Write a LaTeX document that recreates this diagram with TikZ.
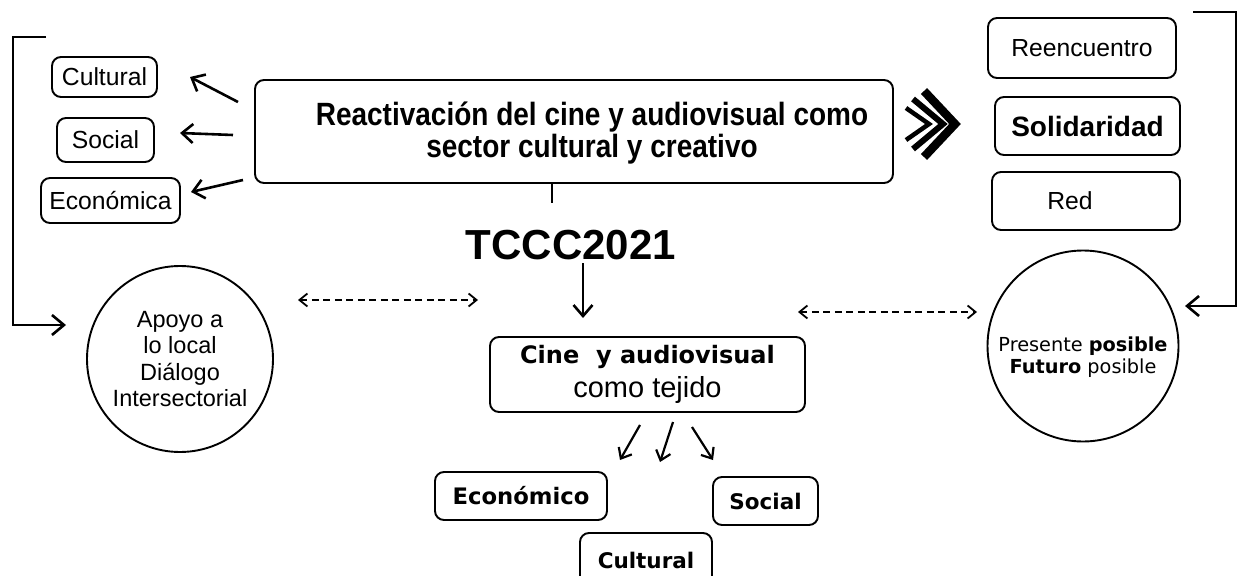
\documentclass[tikz,border=0pt]{standalone}
\usepackage{fontspec}
\setmainfont{Liberation Sans}
\newfontfamily\dejavu{DejaVu Sans}
\usetikzlibrary{arrows.meta}
\newcommand\vstr[2]{\scalebox{1}[#1]{#2}}
\begin{document}
\begin{tikzpicture}[x=1pt,y=-1pt,
  box/.style={draw, line width=1.9pt, rounded corners=9pt, inner sep=0pt},
  circ/.style={draw, circle, line width=1.9pt, inner sep=0pt},
  arr/.style={line width=2.6pt, -{Straight Barb[length=11pt,width=19pt]}},
  smallarr/.style={line width=2.2pt, -{Straight Barb[length=9pt,width=15pt]}},
  dasharr/.style={line width=1.8pt, dash pattern=on 7pt off 4.5pt,
     {Straight Barb[length=8pt,width=13pt]}-{Straight Barb[length=8pt,width=13pt]}},
  brk/.style={line width=2.6pt, -{Straight Barb[length=12pt,width=20pt]}},
  chev/.style={line cap=butt, line join=miter},
  regf/.style={font=\fontsize{24.7}{27}\selectfont},
  boldb/.style={font=\dejavu\bfseries\fontsize{21.5}{24}\selectfont},
]
\useasboundingbox[fill=white] (0,0) rectangle (1246,575);

% left boxes
\node[box, regf, minimum width=105pt, minimum height=40pt] (cultL) at (104.5,77) {Cultural};
\node[box, regf, minimum width=97pt, minimum height=44pt] (socL) at (105.5,140) {Social};
\node[box, regf, minimum width=139pt, minimum height=45pt] (ecoL) at (110.5,200.5) {Económica};

% main box
\node[box, minimum width=638pt, minimum height=103pt] (main) at (574,131.5) {};
\node[font=\bfseries\fontsize{28}{32}\selectfont, align=center] (mainT) at (592,133)
  {\vstr{1.15}{Reactivación del cine y audiovisual como}\\\vstr{1.15}{sector cultural y creativo}};

% arrows to left boxes
\coordinate (a1s) at (238,102); \coordinate (a1e) at (190,77);
\coordinate (a2s) at (233,135); \coordinate (a2e) at (180,133);
\coordinate (a3s) at (243,180); \coordinate (a3e) at (191,192);
\draw[arr] (a1s) -- (a1e);
\draw[arr] (a2s) -- (a2e);
\draw[arr] (a3s) -- (a3e);

% chevrons
\draw[chev, line width=4.5pt] (906,108) -- (929,124) -- (906,140);
\draw[chev, line width=6pt] (913,99) -- (943,124) -- (913,149);
\draw[chev, line width=8.5pt] (924,91) -- (955,124) -- (924,157);

% right boxes
\node[box, regf, minimum width=188pt, minimum height=60pt] (reenc) at (1082,48) {Reencuentro};
\node[box, font=\bfseries\fontsize{28}{30}\selectfont, minimum width=185pt, minimum height=58pt] (solid) at (1087.5,126) {Solidaridad};
\node[box, regf, minimum width=188pt, minimum height=58pt] (red) at (1086,201) {Red\hspace*{32pt}};

% brackets
\coordinate (lbTop) at (46,37); \coordinate (lbEnd) at (66,325);
\draw[brk] (lbTop) -- ++(-33,0) |- (lbEnd);
\coordinate (rbTop) at (1193,12); \coordinate (rbEnd) at (1185,306);
\draw[brk] (rbTop) -- ++(43,0) |- (rbEnd);

% TCCC
\node[font=\bfseries\fontsize{42}{44}\selectfont] (tccc) at (571,245) {TCCC2021};
\coordinate (stem) at (552,203);
\draw[line width=2.4pt] (main.south -| stem) -- (stem);
\coordinate (tas) at (583,263); \coordinate (tae) at (583,318);
\draw[arr] (tas) -- (tae);

% circles
\node[circ, minimum size=186pt, align=center, font=\fontsize{23.5}{26.5}\selectfont] (apoyo) at (180,359)
  {Apoyo a\\lo local\\Diálogo\\Intersectorial};
\node[circ, minimum size=191pt] (present) at (1083,346) {};
\node[align=center, font=\dejavu\fontsize{19.3}{21.5}\selectfont] (presentT) at (1083,357)
  {Presente \textbf{posible}\\\textbf{Futuro} posible};

% dashed arrows
\coordinate (d1a) at (298,300); \coordinate (d1b) at (478,300);
\draw[dasharr] (d1a) -- (d1b);
\coordinate (d2a) at (798,312); \coordinate (d2b) at (977,312);
\draw[dasharr] (d2a) -- (d2b);

% cine box
\node[box, minimum width=315pt, minimum height=75pt, align=center] (cine) at (647.5,374.5)
  {{\dejavu\bfseries\fontsize{24}{26}\selectfont Cine\ \ y audiovisual}\\[7pt]{\fontsize{29}{30}\selectfont como tejido}};

% arrows below
\coordinate (c1s) at (640,425); \coordinate (c1e) at (620,460);
\coordinate (c2s) at (673,422); \coordinate (c2e) at (660,462);
\coordinate (c3s) at (692,427); \coordinate (c3e) at (713,460);
\draw[smallarr] (c1s) -- (c1e);
\draw[smallarr] (c2s) -- (c2e);
\draw[smallarr] (c3s) -- (c3e);

% bottom boxes
\node[box, font=\dejavu\bfseries\fontsize{22.7}{24}\selectfont, minimum width=172pt, minimum height=48pt] (ecoB) at (521,496) {Económico};
\node[box, boldb, minimum width=105pt, minimum height=48pt] (socB) at (765.5,501) {Social};
\node[box, boldb, minimum width=132pt, minimum height=54pt] (culB) at (646,560) {Cultural};
\end{tikzpicture}
\end{document}
